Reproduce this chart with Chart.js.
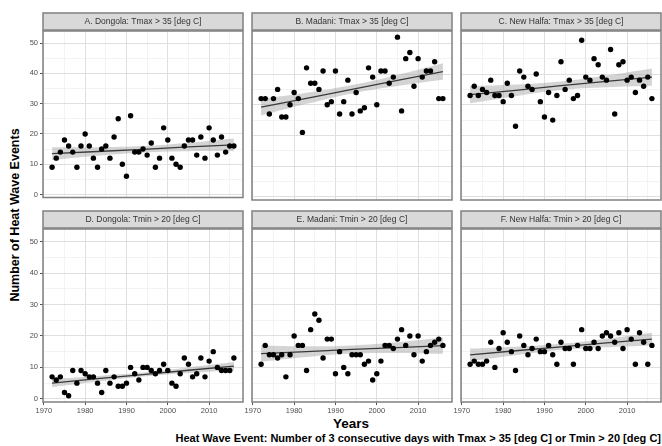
<!DOCTYPE html>
<html>
<head>
<meta charset="utf-8">
<script src="https://cdn.jsdelivr.net/npm/chart.js@4.4.1/dist/chart.umd.min.js"></script>
<style>
  body { margin: 0; width: 662px; height: 446px; overflow: hidden; background: #fff;
         position: relative; font-family: "Liberation Sans", Arial, sans-serif; }
  canvas { position: absolute; }
  #ytitle { position: absolute; left: 15px; top: 215px; transform: translate(-50%, -50%) rotate(-90deg);
            white-space: nowrap; font-weight: bold; font-size: 12.5px; color: #000; }
  #xtitle { position: absolute; left: 351px; top: 423px; transform: translate(-50%, -50%);
            font-weight: bold; font-size: 13.5px; color: #000; }
  #caption { position: absolute; right: 1px; top: 438px; transform: translateY(-50%);
             white-space: nowrap; font-weight: bold; font-size: 11px; color: #000; }
</style>
</head>
<body>
<div id="ytitle">Number of Heat Wave Events</div>
<div id="xtitle">Years</div>
<div id="caption">Heat Wave Event: Number of 3 consecutive days with Tmax &gt; 35 [deg C] or Tmin &gt; 20 [deg C]</div>
<script>
// years of record
const years = [1972, 1973, 1974, 1975, 1976, 1977, 1978, 1979, 1980, 1981,
               1982, 1983, 1984, 1985, 1986, 1987, 1988, 1989, 1990, 1991,
               1992, 1993, 1994, 1995, 1996, 1997, 1998, 1999, 2000, 2001,
               2002, 2003, 2004, 2005, 2006, 2007, 2008, 2009, 2010, 2011,
               2012, 2013, 2014, 2015, 2016]

// heat wave counts per station
const dongolaTmax = [9, 12, 14, 18, 16, 14, 9, 16, 20, 16, 12, 9, 15, 16, 12, 19, 25, 10, 6, 26,
                     14, 14, 15, 13, 17, 9, 12, 22, 18, 12, 10, 9, 16, 18, 18, 13, 19, 12, 22, 18,
                     13, 19, 14, 16, 16]
const madaniTmax = [32, 32, 27, 32, 35, 26, 26, 30, 34, 32, 21, 42, 37, 37, 35, 41, 30, 31, 41, 27,
                    31, 38, 27, 34, 28, 29, 42, 39, 30, 41, 41, 37, 39, 52, 28, 45, 47, 36, 45, 39,
                    41, 41, 44, 32, 32]
const newHalfaTmax = [33, 36, 33, 35, 34, 38, 33, 33, 31, 37, 33, 23, 41, 39, 36, 35, 40, 31, 26, 34,
                      25, 33, 44, 35, 38, 32, 33, 51, 39, 38, 45, 43, 39, 38, 48, 27, 43, 44, 38, 39,
                      34, 38, 36, 39, 32]
const dongolaTmin = [7, 6, 7, 2, 1, 9, 5, 9, 8, 7, 7, 5, 2, 9, 5, 7, 4, 4, 5, 10,
                     8, 6, 10, 10, 9, 8, 9, 11, 9, 5, 4, 8, 13, 11, 7, 8, 13, 7, 12, 15,
                     10, 9, 9, 9, 13]
const madaniTmin = [11, 17, 14, 14, 13, 14, 7, 14, 20, 17, 17, 9, 22, 27, 25, 13, 19, 19, 8, 15,
                    10, 8, 14, 14, 14, 11, 12, 6, 8, 12, 17, 17, 16, 19, 22, 17, 20, 14, 20, 12,
                    15, 17, 18, 19, 17]
const newHalfaTmin = [11, 12, 11, 11, 12, 18, 10, 16, 21, 18, 15, 9, 20, 17, 14, 16, 19, 15, 15, 17,
                      14, 11, 18, 16, 16, 11, 17, 22, 16, 16, 18, 16, 20, 21, 20, 18, 21, 16, 22, 19,
                      11, 21, 18, 11, 17]

// linear trend and its confidence band, read at a few years
const fitYears = [1972, 1983, 1994, 2005, 2016]
const dongolaTmaxFit = [13.5, 14.2, 14.9, 15.7, 16.4]
const dongolaTmaxHi = [15.6, 15.6, 16.0, 17.1, 18.5]
const dongolaTmaxLo = [11.4, 12.8, 13.9, 14.3, 14.3]
const madaniTmaxFit = [29.2, 32.1, 35.0, 37.9, 40.8]
const madaniTmaxHi = [31.9, 33.9, 36.4, 39.7, 43.5]
const madaniTmaxLo = [26.5, 30.3, 33.7, 36.1, 38.1]
const newHalfaTmaxFit = [33.3, 34.7, 36.2, 37.6, 39.0]
const newHalfaTmaxHi = [36.1, 36.6, 37.6, 39.5, 41.8]
const newHalfaTmaxLo = [30.5, 32.8, 34.8, 35.7, 36.2]
const dongolaTminFit = [5.0, 6.4, 7.7, 9.1, 10.4]
const dongolaTminHi = [6.3, 7.3, 8.4, 10.0, 11.7]
const dongolaTminLo = [3.7, 5.5, 7.1, 8.2, 9.1]
const madaniTminFit = [14.4, 15.0, 15.7, 16.3, 16.9]
const madaniTminHi = [17.0, 16.7, 17.0, 18.0, 19.5]
const madaniTminLo = [11.8, 13.3, 14.4, 14.6, 14.3]
const newHalfaTminFit = [14.0, 15.3, 16.5, 17.8, 19.0]
const newHalfaTminHi = [16.0, 16.6, 17.5, 19.1, 21.0]
const newHalfaTminLo = [12.0, 13.9, 15.5, 16.4, 17.0]

// axis ticks
const xTicks = [1970, 1975, 1980, 1985, 1990, 1995, 2000, 2005, 2010, 2015]
const yTicks = [0, 5, 10, 15, 20, 25, 30, 35, 40, 45, 50]

const panels = [
    { title: 'A. Dongola: Tmax > 35 [deg C]', v: dongolaTmax, fit: dongolaTmaxFit, hi: dongolaTmaxHi, lo: dongolaTmaxLo, row: 0, col: 0 },
    { title: 'B. Madani: Tmax > 35 [deg C]', v: madaniTmax, fit: madaniTmaxFit, hi: madaniTmaxHi, lo: madaniTmaxLo, row: 0, col: 1 },
    { title: 'C. New Halfa: Tmax > 35 [deg C]', v: newHalfaTmax, fit: newHalfaTmaxFit, hi: newHalfaTmaxHi, lo: newHalfaTmaxLo, row: 0, col: 2 },
    { title: 'D. Dongola: Tmin > 20 [deg C]', v: dongolaTmin, fit: dongolaTminFit, hi: dongolaTminHi, lo: dongolaTminLo, row: 1, col: 0 },
    { title: 'E. Madani: Tmin > 20 [deg C]', v: madaniTmin, fit: madaniTminFit, hi: madaniTminHi, lo: madaniTminLo, row: 1, col: 1 },
    { title: 'F. New Halfa: Tmin > 20 [deg C]', v: newHalfaTmin, fit: newHalfaTminFit, hi: newHalfaTminHi, lo: newHalfaTminLo, row: 1, col: 2 }
]

// page layout of the facet grid
const colLeft = [43, 252, 461]
const panelW = 202
const stripTop = [12, 210]
const panelTop = [31, 229]
const panelBottom = [202, 402]

const FONT = '"Liberation Sans", Arial, sans-serif'
const majorGrid = '#dfdfdf'
const minorGrid = '#eeeeee'

// grey strip on top + panel frame
const stripPlugin = {
    id: 'strip',
    afterDraw(chart, args, opts) {
        const { ctx, chartArea: a } = chart
        ctx.save()
        ctx.fillStyle = '#d9d9d9'
        ctx.fillRect(a.left, 1, a.right - a.left, a.top - 2)
        ctx.strokeStyle = '#808080'
        ctx.lineWidth = 1.5
        ctx.strokeRect(a.left, 1, a.right - a.left, a.top - 2)
        ctx.strokeRect(a.left, a.top, a.right - a.left, a.bottom - a.top)
        ctx.fillStyle = '#333'
        ctx.font = '8.5px ' + FONT
        ctx.textAlign = 'center'
        ctx.textBaseline = 'middle'
        ctx.fillText(opts.text, (a.left + a.right) / 2, a.top / 2 + 0.5)
        ctx.restore()
    }
}

function isMajor(c) {
    return c.tick && c.tick.value % 10 === 0
}

function makePanel(p) {
    const yw = p.col === 0 ? 43 : 14
    const xh = p.row === 1 ? 18 : 0
    const m = 2
    const w = yw + panelW + m
    const h = panelBottom[p.row] - stripTop[p.row] + xh + m

    const canvas = document.createElement('canvas')
    canvas.width = w
    canvas.height = h
    canvas.style.left = (colLeft[p.col] - yw) + 'px'
    canvas.style.top = stripTop[p.row] + 'px'
    canvas.style.width = w + 'px'
    canvas.style.height = h + 'px'
    document.body.appendChild(canvas)

    const pts = years.map((yr, i) => ({ x: yr, y: p.v[i] }))
    const fitPts = fitYears.map((yr, i) => ({ x: yr, y: p.fit[i] }))
    const hiPts = fitYears.map((yr, i) => ({ x: yr, y: p.hi[i] }))
    const loPts = fitYears.map((yr, i) => ({ x: yr, y: p.lo[i] }))

    new Chart(canvas, {
        type: 'scatter',
        data: {
            datasets: [
                { data: pts, pointRadius: 2.7, pointBackgroundColor: '#000', pointBorderWidth: 0 },
                { type: 'line', data: fitPts, borderColor: '#3a3a3a', borderWidth: 1.3, pointRadius: 0, fill: false },
                { type: 'line', data: hiPts, borderWidth: 0, pointRadius: 0, tension: 0.4, fill: false },
                { type: 'line', data: loPts, borderWidth: 0, pointRadius: 0, tension: 0.4,
                  fill: '-1', backgroundColor: 'rgba(160,160,160,0.45)' }
            ]
        },
        plugins: [stripPlugin],
        options: {
            responsive: false,
            animation: false,
            devicePixelRatio: 1,
            layout: { padding: { top: panelTop[p.row] - stripTop[p.row], right: m, bottom: m, left: 0 } },
            plugins: {
                legend: { display: false },
                tooltip: { enabled: false },
                strip: { text: p.title }
            },
            scales: {
                x: {
                    type: 'linear',
                    min: 1969.8,
                    max: 2018.2,
                    afterBuildTicks: s => { s.ticks = xTicks.map(v => ({ value: v })) },
                    afterFit: s => { s.height = xh },
                    border: { display: false },
                    grid: {
                        color: c => isMajor(c) ? majorGrid : minorGrid,
                        lineWidth: c => isMajor(c) ? 1 : 0.7,
                        drawTicks: p.row === 1,
                        tickLength: 3,
                        tickColor: c => isMajor(c) ? '#555' : 'rgba(0,0,0,0)'
                    },
                    ticks: {
                        display: p.row === 1,
                        autoSkip: false,
                        maxRotation: 0,
                        padding: 1,
                        color: '#4d4d4d',
                        font: { family: FONT, size: 7.5 },
                        callback: v => v % 10 === 0 ? String(v) : ''
                    }
                },
                y: {
                    min: -1,
                    max: 54,
                    afterBuildTicks: s => { s.ticks = yTicks.map(v => ({ value: v })) },
                    afterFit: s => { s.width = yw },
                    border: { display: false },
                    grid: {
                        color: c => isMajor(c) ? majorGrid : minorGrid,
                        lineWidth: c => isMajor(c) ? 1 : 0.7,
                        drawTicks: p.col === 0,
                        tickLength: 3,
                        tickColor: c => isMajor(c) ? '#555' : 'rgba(0,0,0,0)'
                    },
                    ticks: {
                        display: p.col === 0,
                        autoSkip: false,
                        padding: 2,
                        color: '#4d4d4d',
                        font: { family: FONT, size: 7.5 },
                        callback: v => v % 10 === 0 ? String(v) : ''
                    }
                }
            }
        }
    })
}

panels.forEach(makePanel)
</script>
</body>
</html>
